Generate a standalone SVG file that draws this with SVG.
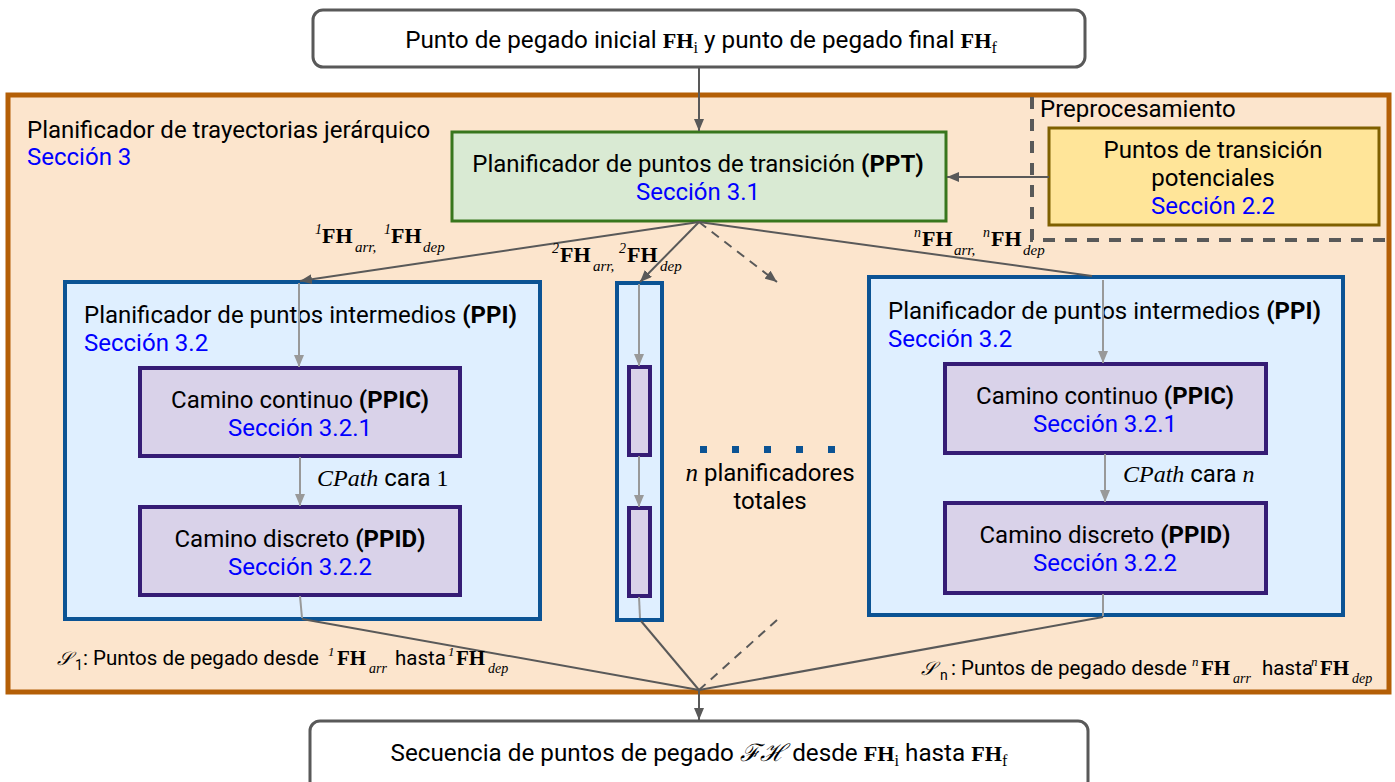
<svg xmlns="http://www.w3.org/2000/svg" width="1395" height="782" viewBox="0 0 1395 782">
<defs>
<style>
.s{font-family:Roboto,"Liberation Sans",sans-serif;font-size:24px;fill:#000}
.b{font-weight:bold}
.blue{fill:#0000ff}
.m{font-family:"Liberation Serif","DejaVu Serif",serif;fill:#000}
.fh{font-family:"Liberation Serif",serif;font-weight:bold;font-size:22px}
.it{font-family:"Liberation Serif",serif;font-style:italic}
.sc{font-family:"DejaVu Serif",serif;font-style:italic}
.dk{stroke:#595959;stroke-width:2;fill:none}
.gr{stroke:#999999;stroke-width:2;fill:none}
.ppi{fill:#dfefff;stroke:#0b5394;stroke-width:4}
.pp{fill:#d9d2e9;stroke:#351c75;stroke-width:4}
.io{fill:#ffffff;stroke:#595959;stroke-width:3}
.dot{fill:#0b5394}
</style>
<marker id="ad" viewBox="0 0 12 10" refX="12" refY="5" markerWidth="12" markerHeight="10" markerUnits="userSpaceOnUse" orient="auto"><path d="M0,0 L12,5 L0,10 z" fill="#595959"/></marker>
<marker id="ag" viewBox="0 0 12 10" refX="12" refY="5" markerWidth="12" markerHeight="10" markerUnits="userSpaceOnUse" orient="auto"><path d="M0,0 L12,5 L0,10 z" fill="#999999"/></marker>
</defs>

<g id="hierarchical">
<rect x="8" y="95" width="1381" height="597" fill="#fce5cd" stroke="#b45f06" stroke-width="5"/>
<text class="s" x="27" y="138">Planificador de trayectorias jerárquico</text>
<text class="s blue" x="27" y="165">Sección 3</text>
</g>

<g id="preprocessing">
<path d="M1032,97 V240 H1389" fill="none" stroke="#595959" stroke-width="4" stroke-dasharray="12,10"/>
<text class="s" x="1040" y="117">Preprocesamiento</text>
</g>

<g id="start">
<rect class="io" x="313" y="10" width="772" height="57" rx="10"/>
<g transform="translate(701,0) scale(1.01,1) translate(-701,0)">
<text x="701" y="48" text-anchor="middle"><tspan class="s">Punto de pegado inicial </tspan><tspan class="fh">FH</tspan><tspan class="m" style="font-size:16px" dy="5">i</tspan><tspan class="s" dy="-5"> y punto de pegado final </tspan><tspan class="fh">FH</tspan><tspan class="m" style="font-size:16px" dy="5">f</tspan></text>
</g>
</g>

<g id="end">
<rect class="io" x="310" y="721" width="778" height="70" rx="10"/>
<g transform="translate(699,0) scale(1.01,1) translate(-699,0)">
<text x="699" y="761" text-anchor="middle"><tspan class="s">Secuencia de puntos de pegado </tspan><tspan class="sc" style="font-size:24px">ℱℋ</tspan><tspan class="s"> desde </tspan><tspan class="fh">FH</tspan><tspan class="m" style="font-size:16px" dy="5">i</tspan><tspan class="s" dy="-5"> hasta </tspan><tspan class="fh">FH</tspan><tspan class="m" style="font-size:16px" dy="5">f</tspan></text>
</g>
</g>

<g id="ppt">
<rect x="452" y="132" width="494" height="89" fill="#d9ead3" stroke="#38761d" stroke-width="3"/>
<text class="s" x="698" y="172" text-anchor="middle">Planificador de puntos de transición <tspan class="b">(PPT)</tspan></text>
<text class="s blue" x="698" y="200" text-anchor="middle">Sección 3.1</text>
</g>

<g id="potential">
<rect x="1049" y="128" width="330" height="97" fill="#ffe599" stroke="#7f6000" stroke-width="3"/>
<text class="s" x="1213" y="158" text-anchor="middle">Puntos de transición</text>
<text class="s" x="1213" y="186" text-anchor="middle">potenciales</text>
<text class="s blue" x="1213" y="214" text-anchor="middle">Sección 2.2</text>
</g>

<g id="ppi1">
<rect class="ppi" x="65" y="282" width="475" height="337"/>
<text class="s" x="84" y="323">Planificador de puntos intermedios <tspan class="b">(PPI)</tspan></text>
<text class="s blue" x="84" y="351">Sección 3.2</text>
</g>
<g id="ppic1">
<rect class="pp" x="140" y="368" width="320" height="88"/>
<text class="s" x="300" y="408" text-anchor="middle">Camino continuo <tspan class="b">(PPIC)</tspan></text>
<text class="s blue" x="300" y="436" text-anchor="middle">Sección 3.2.1</text>
</g>
<g id="ppid1">
<rect class="pp" x="140" y="507" width="320" height="88"/>
<text class="s" x="300" y="547" text-anchor="middle">Camino discreto <tspan class="b">(PPID)</tspan></text>
<text class="s blue" x="300" y="575" text-anchor="middle">Sección 3.2.2</text>
</g>

<g id="ppi2">
<rect class="ppi" x="617" y="283" width="45" height="337"/>
</g>
<g id="ppic2"><rect class="pp" x="629" y="367" width="21" height="88"/></g>
<g id="ppid2"><rect class="pp" x="629" y="508" width="21" height="88"/></g>

<g id="ppin">
<rect class="ppi" x="869" y="277" width="474" height="338"/>
<text class="s" x="888" y="319">Planificador de puntos intermedios <tspan class="b">(PPI)</tspan></text>
<text class="s blue" x="888" y="347">Sección 3.2</text>
</g>
<g id="ppicn">
<rect class="pp" x="945" y="364" width="321" height="89"/>
<text class="s" x="1105" y="404" text-anchor="middle">Camino continuo <tspan class="b">(PPIC)</tspan></text>
<text class="s blue" x="1105" y="432" text-anchor="middle">Sección 3.2.1</text>
</g>
<g id="ppidn">
<rect class="pp" x="945" y="503" width="321" height="90"/>
<text class="s" x="1105" y="543" text-anchor="middle">Camino discreto <tspan class="b">(PPID)</tspan></text>
<text class="s blue" x="1105" y="571" text-anchor="middle">Sección 3.2.2</text>
</g>

<g id="total">
<rect class="dot" x="700" y="446" width="7" height="7"/>
<rect class="dot" x="732" y="446" width="7" height="7"/>
<rect class="dot" x="764" y="446" width="7" height="7"/>
<rect class="dot" x="796" y="446" width="7" height="7"/>
<rect class="dot" x="828" y="446" width="7" height="7"/>
<text x="770" y="481" text-anchor="middle"><tspan class="it" style="font-size:25px">n</tspan><tspan class="s"> planificadores</tspan></text>
<text class="s" x="770" y="509" text-anchor="middle">totales</text>
</g>

<g id="connectors">
<line class="dk" x1="699" y1="67" x2="699" y2="131" marker-end="url(#ad)"/>
<line class="dk" x1="1049" y1="177" x2="947" y2="177" marker-end="url(#ad)"/>
<line class="dk" x1="699" y1="222" x2="300" y2="281" marker-end="url(#ad)"/>
<line class="dk" x1="699" y1="222" x2="640" y2="282" marker-end="url(#ad)"/>
<line class="dk" x1="699" y1="222" x2="777" y2="282" stroke-dasharray="9,7" marker-end="url(#ad)"/>
<line class="dk" x1="699" y1="222" x2="1092" y2="276"/>
<line class="gr" x1="299" y1="283" x2="299" y2="367" marker-end="url(#ag)"/>
<line class="gr" x1="300" y1="457" x2="300" y2="506" marker-end="url(#ag)"/>
<line class="gr" x1="300" y1="596" x2="302" y2="618"/>
<line class="gr" x1="639" y1="284" x2="639" y2="366" marker-end="url(#ag)"/>
<line class="gr" x1="639" y1="456" x2="639" y2="507" marker-end="url(#ag)"/>
<line class="gr" x1="639" y1="597" x2="640" y2="618"/>
<line class="gr" x1="1103" y1="280" x2="1103" y2="363" marker-end="url(#ag)"/>
<line class="gr" x1="1105" y1="454" x2="1105" y2="502" marker-end="url(#ag)"/>
<line class="gr" x1="1103" y1="594" x2="1103" y2="616"/>
<line class="dk" x1="302" y1="619" x2="699" y2="690"/>
<line class="dk" x1="641" y1="621" x2="699" y2="690"/>
<line class="dk" x1="777" y1="620" x2="699" y2="690" stroke-dasharray="9,7"/>
<line class="dk" x1="1103" y1="617" x2="699" y2="690"/>
<line class="dk" x1="699" y1="690" x2="699" y2="720" marker-end="url(#ad)"/>
</g>

<g id="labels">
<text class="m"><tspan class="it" style="font-size:14px" x="315" y="234">1</tspan><tspan class="fh" x="322" y="243">FH</tspan><tspan class="it" style="font-size:15px" x="355" y="252">arr,</tspan><tspan class="it" style="font-size:14px" x="384" y="234">1</tspan><tspan class="fh" x="391" y="243">FH</tspan><tspan class="it" style="font-size:15px" x="423" y="252">dep</tspan></text>
<text class="m"><tspan class="it" style="font-size:14px" x="552" y="253">2</tspan><tspan class="fh" x="560" y="262">FH</tspan><tspan class="it" style="font-size:15px" x="593" y="271">arr,</tspan><tspan class="it" style="font-size:14px" x="619" y="253">2</tspan><tspan class="fh" x="627" y="262">FH</tspan><tspan class="it" style="font-size:15px" x="660" y="271">dep</tspan></text>
<text class="m"><tspan class="it" style="font-size:14px" x="914" y="237">n</tspan><tspan class="fh" x="922" y="246">FH</tspan><tspan class="it" style="font-size:15px" x="954" y="255">arr,</tspan><tspan class="it" style="font-size:14px" x="983" y="237">n</tspan><tspan class="fh" x="991" y="246">FH</tspan><tspan class="it" style="font-size:15px" x="1023" y="255">dep</tspan></text>

<text x="317" y="486"><tspan class="it" style="font-size:24px">CPath</tspan><tspan class="s"> cara </tspan><tspan class="m" style="font-size:24px">1</tspan></text>
<text x="1123" y="482"><tspan class="it" style="font-size:24px">CPath</tspan><tspan class="s"> cara </tspan><tspan class="it" style="font-size:24px">n</tspan></text>

<text><tspan class="sc" style="font-size:19px" x="57" y="665">𝒮</tspan><tspan class="s" style="font-size:14px" x="75" y="670">1</tspan><tspan class="s" style="font-size:20.5px" x="83" y="665">: Puntos de pegado desde</tspan><tspan class="it" style="font-size:13px" x="328" y="656">1</tspan><tspan class="fh" style="font-size:21px" x="337" y="665">FH</tspan><tspan class="it" style="font-size:14px" x="369" y="673">arr</tspan><tspan class="s" style="font-size:20.5px" x="395" y="665">hasta</tspan><tspan class="it" style="font-size:13px" x="448" y="656">1</tspan><tspan class="fh" style="font-size:21px" x="456" y="665">FH</tspan><tspan class="it" style="font-size:14px" x="488" y="673">dep</tspan></text>
<text><tspan class="sc" style="font-size:19px" x="921" y="675">𝒮</tspan><tspan class="s" style="font-size:14px" x="940" y="680">n</tspan><tspan class="s" style="font-size:20.5px" x="951" y="675">: Puntos de pegado desde</tspan><tspan class="it" style="font-size:13px" x="1192" y="666">n</tspan><tspan class="fh" style="font-size:21px" x="1201" y="675">FH</tspan><tspan class="it" style="font-size:14px" x="1233" y="683">arr</tspan><tspan class="s" style="font-size:20.5px" x="1262" y="675">hasta</tspan><tspan class="it" style="font-size:13px" x="1311" y="666">n</tspan><tspan class="fh" style="font-size:21px" x="1320" y="675">FH</tspan><tspan class="it" style="font-size:14px" x="1352" y="683">dep</tspan></text>
</g>
</svg>
